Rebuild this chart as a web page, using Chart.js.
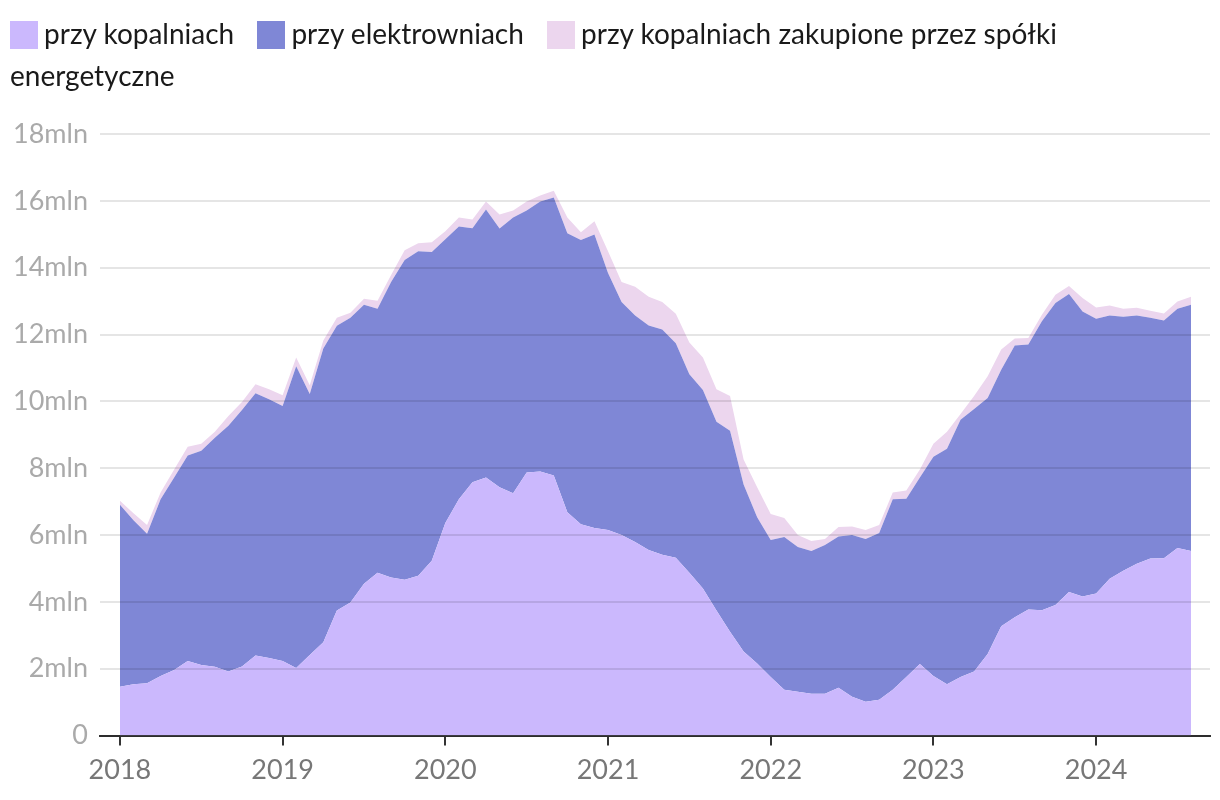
<!DOCTYPE html>
<html><head><meta charset="utf-8">
<script src="https://cdn.jsdelivr.net/npm/chart.js@4"></script>
<style>
html,body{margin:0;padding:0;background:#fff;}
#wrap{position:relative;width:1220px;height:800px;}
#legend{position:absolute;left:10px;top:12px;width:1200px;font-family:Lato,sans-serif;font-size:28px;line-height:42px;color:#1a1a1a;}
#legend .sw{display:inline-block;width:28px;height:28px;vertical-align:-5px;margin-right:6px;}
#legend .it{margin-right:16px;}
canvas{position:absolute;left:0;top:0;}
</style></head>
<body><div id="wrap"><canvas id="c" width="1220" height="800"></canvas><div id="legend"></div></div>
<script>
const categories = ["2018-01","2018-02","2018-03","2018-04","2018-05","2018-06","2018-07","2018-08","2018-09","2018-10","2018-11","2018-12",
"2019-01","2019-02","2019-03","2019-04","2019-05","2019-06","2019-07","2019-08","2019-09","2019-10","2019-11","2019-12",
"2020-01","2020-02","2020-03","2020-04","2020-05","2020-06","2020-07","2020-08","2020-09","2020-10","2020-11","2020-12",
"2021-01","2021-02","2021-03","2021-04","2021-05","2021-06","2021-07","2021-08","2021-09","2021-10","2021-11","2021-12",
"2022-01","2022-02","2022-03","2022-04","2022-05","2022-06","2022-07","2022-08","2022-09","2022-10","2022-11","2022-12",
"2023-01","2023-02","2023-03","2023-04","2023-05","2023-06","2023-07","2023-08","2023-09","2023-10","2023-11","2023-12",
"2024-01","2024-02","2024-03","2024-04","2024-05","2024-06","2024-07","2024-08"];
const seriesNames = ["przy kopalniach","przy elektrowniach","przy kopalniach zakupione przez spółki energetyczne"];
// values in mln tonnes
const przyKopalniach = [1.46,1.54,1.57,1.78,1.96,2.23,2.11,2.06,1.92,2.07,2.40,2.32,
2.23,2.02,2.41,2.79,3.74,3.98,4.54,4.87,4.73,4.66,4.78,5.23,
6.36,7.07,7.58,7.72,7.43,7.25,7.87,7.90,7.78,6.68,6.32,6.21,
6.15,6.00,5.79,5.55,5.41,5.32,4.87,4.40,3.74,3.11,2.52,2.16,
1.75,1.37,1.31,1.25,1.25,1.43,1.16,1.01,1.07,1.37,1.75,2.14,
1.78,1.54,1.75,1.92,2.44,3.27,3.54,3.77,3.75,3.91,4.30,4.16,
4.25,4.69,4.93,5.14,5.30,5.31,5.61,5.52];
const przyElektrowniach = [5.45,4.90,4.47,5.29,5.76,6.15,6.41,6.85,7.35,7.67,7.84,7.74,
7.63,9.03,7.81,8.79,8.52,8.52,8.35,7.90,8.84,9.57,9.71,9.24,
8.49,8.16,7.60,8.02,7.74,8.25,7.84,8.08,8.32,8.35,8.51,8.78,
7.69,6.97,6.78,6.72,6.74,6.42,5.94,5.94,5.65,6.01,4.99,4.37,
4.10,4.57,4.33,4.27,4.45,4.53,4.84,4.87,4.99,5.70,5.34,5.58,
6.56,7.04,7.70,7.85,7.66,7.68,8.13,7.93,8.65,9.03,8.91,8.53,
8.22,7.88,7.60,7.43,7.20,7.11,7.16,7.37];
const zakupioneSpolki = [0.12,0.21,0.26,0.20,0.24,0.26,0.21,0.18,0.29,0.24,0.27,0.30,
0.32,0.26,0.26,0.24,0.24,0.15,0.18,0.24,0.21,0.29,0.24,0.29,
0.24,0.27,0.26,0.24,0.42,0.21,0.27,0.18,0.20,0.47,0.23,0.40,
0.65,0.60,0.86,0.86,0.82,0.88,0.95,0.97,0.97,1.04,0.75,0.90,
0.78,0.57,0.36,0.30,0.18,0.28,0.26,0.27,0.24,0.20,0.24,0.24,
0.39,0.51,0.17,0.39,0.65,0.60,0.21,0.20,0.19,0.25,0.24,0.40,
0.34,0.30,0.24,0.23,0.21,0.21,0.22,0.24];
const yearTicks = ["2018","2019","2020","2021","2022","2023","2024"];
const yTicks = [0,2,4,6,8,10,12,14,16,18];
const colors = ["#cbb8fd","#7f87d6","#ecd6ee"];

const seriesValues = [przyKopalniach, przyElektrowniach, zakupioneSpolki];
const toPts = arr => arr.map((v,i)=>({x:i,y:v}));

// HTML legend (wraps like the original)
const lg = document.getElementById('legend');
seriesNames.forEach((n,i)=>{
  const s=document.createElement('span'); s.className='it';
  s.innerHTML='<span class="sw" style="background:'+colors[i]+'"></span>'+n;
  lg.appendChild(s); lg.appendChild(document.createTextNode(' '));
});

new Chart(document.getElementById('c'),{
  type:'line',
  data:{datasets: seriesValues.map((arr,i)=>({
    label: seriesNames[i], data: toPts(arr), backgroundColor: colors[i],
    borderWidth:0, pointRadius:0, fill: i===0?'origin':'-1', tension:0
  }))},
  options:{
    responsive:false, animation:false,
    layout:{padding:{top:134,right:10,left:0,bottom:6}},
    plugins:{legend:{display:false},tooltip:{enabled:false}},
    scales:{
      x:{type:'linear', min:-1.47, max:80.4,
        afterBuildTicks: s=>{ s.ticks = yearTicks.map((t,i)=>({value:i*12})); },
        ticks:{autoSkip:false, maxRotation:0, padding:8, color:'#777', font:{family:'Lato',size:27},
          callback:(v)=> yearTicks[Math.round(v/12)]},
        grid:{drawOnChartArea:false, drawTicks:true, tickLength:10, color:'#333', lineWidth:2},
        border:{display:true, color:'#333', width:2}
      },
      y:{stacked:true, min:0, max:18,
        afterBuildTicks: s=>{ s.ticks = yTicks.map(v=>({value:v})); },
        afterFit: s=>{ s.width = 100; },
        ticks:{padding:12, color:'#aaa', font:{family:'Lato',size:27},
          callback:v=> v===0?'0':v+'mln'},
        grid:{color:'rgba(0,0,0,0.1)', lineWidth:2, drawTicks:false, z:1},
        border:{display:false}
      }
    }
  }
});
</script></body></html>
